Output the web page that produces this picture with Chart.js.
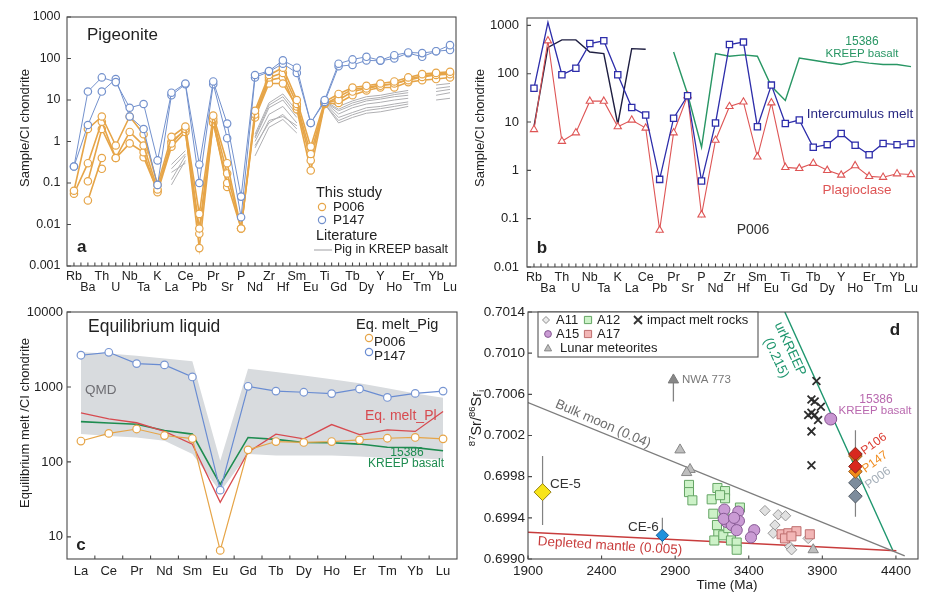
<!DOCTYPE html>
<html>
<head>
<meta charset="utf-8">
<script src="https://cdn.jsdelivr.net/npm/chart.js@4.4.0/dist/chart.umd.min.js"></script>
<style>
  body { margin: 0; background: #fff; width: 935px; height: 605px; position: relative; overflow: hidden; }
  canvas { position: absolute; }
</style>
</head>
<body>
<canvas id="pa" width="465" height="300" style="left:0;top:0"></canvas>
<canvas id="pb" width="470" height="300" style="left:465px;top:0"></canvas>
<canvas id="pc" width="465" height="310" style="left:0;top:295px"></canvas>
<canvas id="pd" width="470" height="310" style="left:465px;top:295px"></canvas>
<script>
const FONT = '"Liberation Sans", Arial, sans-serif';
const n = null;

// element order of the spider diagrams (a, b)
const spiderEls = ['Rb','Ba','Th','U','Nb','Ta','K','La','Ce','Pb','Pr','Sr','P','Nd','Zr','Hf','Sm','Eu','Ti','Gd','Tb','Dy','Y','Ho','Er','Tm','Yb','Lu'];
const reeEls = ['La','Ce','Pr','Nd','Sm','Eu','Gd','Tb','Dy','Ho','Er','Tm','Yb','Lu'];

// a: pigeonite, this study
const pigP147a = [0.25, 16, 35, 27, 6.5, 8, 0.35, 15, 25, 0.28, 28, 2.7, 0.047, 40, 50, 90, 60, 2.8, 10, 75, 95, 110, 90, 120, 140, 135, 150, 210];
const pigP147b = [0.25, 2.5, 16, 32, 4, 2, 0.09, 13, 24, 0.1, 24, 1.2, 0.015, 35, 48, 75, 45, 2.8, 9, 65, 70, 90, 88, 100, 135, 110, 150, 160];
const pigP006a = [0.065, 2, 4, 0.8, 4, 1.5, 0.09, 1.3, 2.3, 0.018, 4.2, 0.3, 0.008, 5.5, 40, 60, 10, 0.75, 9, 14, 20, 22, 25, 28, 35, 42, 45, 48];
const pigP006b = [0.055, 0.3, 3, 0.4, 1.7, 0.8, 0.07, 0.9, 2, 0.008, 3.5, 0.17, 0.008, 4.5, 35, 45, 8, 0.5, 8.5, 10, 16, 19, 22, 25, 30, 36, 40, 42];
const pigP006c = [n, 0.11, 2, 0.4, 0.9, 0.55, 0.06, 0.75, 1.7, 0.006, 2.8, 0.1, 0.008, 3.8, 25, 25, 7, 0.35, 8, 8.5, 13, 17, 20, 20, 27, 30, 32, 35];
const pigP006d = [n, 0.038, 0.4, n, n, 0.42, 0.065, 1.0, 1.9, 0.0027, 3, 0.08, n, 4, 30, 35, 6, 0.2, 8, 12, 18, 20, 23, 24, 32, 38, 42, 45];
const pigP006e = [n, n, 0.22, n, n, n, n, n, n, n, n, n, n, n, n, n, n, n, n, n, n, n, n, n, n, n, n, n];
// a: pigeonite in KREEP basalt (literature)
const litPig1 = [n,n,n,n,n,n,n, 0.09,0.35, n,n,n,n, 0.45,2.2,3.4,1.6, n, 8,2.8,3.8,4.8,5.2,6,7, n, 10,11];
const litPig2 = [n,n,n,n,n,n,n, 0.12,0.45, n,n,n,n, 0.8,2.8,4.5,2, n, 8.5,3.8,5,6.5,7,8,9, n, 13,15];
const litPig3 = [n,n,n,n,n,n,n, 0.18,0.3, n,n,n,n, 1,4.5,7,2.8, n, 9,4.6,6.5,8,8.8,10,11, n, 16,18];
const litPig4 = [n,n,n,n,n,n,n, 0.22,0.5, n,n,n,n, 1.2,6.5,10,3.8, n, 9,5.5,7.5,9.5,10.5,12,13, n, 19,21];
const litPig5 = [n,n,n,n,n,n,n, 0.28,0.6, n,n,n,n, 1.5,8.5,14,5.5, n, 10,7,9.5,12,13,15,17, n, 23,25];
const litPig6 = [n,n,n,n,n,n,n,n,n,n,n,n,n, 1.3,7.5,12,4.5, n, 9.5,6,8.5,10.5,11.5,13.5,15, n,n,n];
const litPig7 = [n,n,n,n,n,n,n,n,n,n,n,n,n, 0.7,3.2,4,2.4, n, 8,3.2,4.4,5.6,6.2,7,8, n,n,n];
const decadesA = [0.001, 0.01, 0.1, 1, 10, 100, 1000];

// b: P006
const meltP006 = [50, 1150, 95, 130, 420, 480, 95, 20, 14, 0.65, 12, 35, 0.6, 9.5, 400, 450, 8, 58, 9.3, 11, 3.0, 3.4, 5.8, 3.3, 2.1, 3.6, 3.4, 3.6];
const plagP006 = [7, 480, 4, 6, 27, 27, 8, 11, 7.5, 0.058, 6, 35, 0.12, 4.2, 21, 26, 1.9, 25, 1.15, 1.1, 1.4, 1.0, 0.8, 1.25, 0.75, 0.72, 0.85, 0.82];
const kreepLow = [8, 350, 500, 500, 280, 260, 9, 330, 320, n, n, n, n, n, n, n, n, n, n, n, n, n, n, n, n, n, n, n];
const kreep15386 = [n, n, n, n, n, n, n, n, n, n, 280, 38, 3, 260, 230, 245, 230, 55, 28, 210, 190, 170, 155, 180, 165, 155, 155, 140];
const decadesB = [0.01, 0.1, 1, 10, 100, 1000];

// c: equilibrium liquids
const eqP147 = [2650, 2900, 2050, 1970, 1360, 42, 1020, 880, 850, 815, 940, 725, 820, 880];
const eqP006 = [190, 240, 275, 225, 205, 6.6, 145, 187, 182, 187, 197, 207, 212, 203];
const eqPl = [450, 375, 333, 255, 172, 29, 135, 235, 203, 315, 232, 268, 255, 470];
const eq15386 = [345, 330, 318, 263, 235, 50, 212, 200, 182, 180, 173, 157, 155, 141];
const qmdHigh = [2900, 2800, 2600, 2400, 2200, 104, 1750, 1580, 1420, 1270, 1120, 960, 820, 720];
const qmdLow = [235, 222, 212, 192, 128, 40, 128, 122, 122, 122, 118, 112, 112, 108];
const decadesC = [10, 100, 1000, 10000];

// d: initial 87Sr/86Sr vs time (Ma)
const timeTicks = [1900, 2400, 2900, 3400, 3900, 4400];
const srTicks = [0.6990, 0.6994, 0.6998, 0.7002, 0.7006, 0.7010, 0.7014];
const a11 = [[3510,0.69947],[3600,0.69943],[3650,0.69942],[3578,0.69933],[3566,0.69925],[3679,0.69912],[3691,0.69909],[3804,0.69920]];
const a12 = [[2994,0.69972],[2994,0.69965],[3017,0.69957],[3148,0.69958],[3187,0.69969],[3239,0.69966],[3239,0.69959],[3159,0.69944],[3184,0.69933],[3193,0.69924],[3166,0.69918],[3227,0.69923],[3279,0.69918],[3318,0.69916],[3318,0.69909],[3340,0.69950],[3234,0.69946],[3261,0.69930],[3205,0.69962]];
const a15 = [[3234,0.69948],[3250,0.69936],[3284,0.69933],[3329,0.69946],[3333,0.69937],[3318,0.69928],[3230,0.69939],[3437,0.69928],[3415,0.69921],[3300,0.69940]];
const a17 = [[3623,0.69924],[3669,0.69925],[3724,0.69927],[3815,0.69924],[3646,0.69920],[3690,0.69922]];
const impactMelt = [[3860,0.70073],[3826,0.70055],[3848,0.70053],[3890,0.70048],[3826,0.70042],[3848,0.70040],[3871,0.70035],[3826,0.70024],[3826,0.69991],[3804,0.70040]];
const lunarMet = [[2933,0.70006],[3001,0.69987],[2978,0.69984],[3838,0.69909]];
const nwa773 = [[2888,0.70074]];
const nwa773Shaft = [[2888,0.70053],[2888,0.70071]];
const ce5 = [[1999,0.69965]];
const ce5Err = [[1999,0.70000],[1999,0.69933]];
const ce6 = [[2813,0.69923]];
const ce6Err = [[2813,0.69940],[2813,0.69914]];
const kreepSr = [[3957,0.70036]];
const p106Sr = [[4125,0.70002],[4125,0.69990]];
const p147Sr = [[4125,0.70000],[4125,0.69985]];
const p006Sr = [[4125,0.69974],[4125,0.69961]];
const pSrErr = [[4125,0.70025],[4125,0.69941]];
const bulkMoon = [[1900,0.70052],[4460,0.69903]];
const depletedMantle = [[1900,0.69926],[4403,0.69908]];
const urKreep = [[3645,0.7014],[4380,0.69908]];

const byIndex = arr => arr.map((v, i) => ({x: i, y: v}));
const xy = arr => arr.map(([x, y]) => ({x, y}));

function marker(ctx, kind, x, y, r, fill, stroke, lw) {
  ctx.save();
  ctx.fillStyle = fill; ctx.strokeStyle = stroke; ctx.lineWidth = lw || 1;
  ctx.beginPath();
  if (kind === 'circle') ctx.arc(x, y, r, 0, Math.PI * 2);
  else if (kind === 'rect') ctx.rect(x - r, y - r, 2 * r, 2 * r);
  else if (kind === 'rectRot') { ctx.moveTo(x, y - r); ctx.lineTo(x + r, y); ctx.lineTo(x, y + r); ctx.lineTo(x - r, y); ctx.closePath(); }
  else if (kind === 'triangle') { ctx.moveTo(x, y - r); ctx.lineTo(x + r, y + r * 0.8); ctx.lineTo(x - r, y + r * 0.8); ctx.closePath(); }
  else if (kind === 'cross') { ctx.moveTo(x - r, y - r); ctx.lineTo(x + r, y + r); ctx.moveTo(x + r, y - r); ctx.lineTo(x - r, y + r); }
  if (kind !== 'cross') ctx.fill();
  ctx.stroke();
  ctx.restore();
}

// frame, inward ticks and free text for one panel (page coords, shifted by ox/oy)
function annotate(cfg) {
  return {
    id: 'annot',
    afterDraw(chart) {
      const ctx = chart.ctx, a = chart.chartArea, sx = chart.scales.x, sy = chart.scales.y;
      ctx.save();
      ctx.strokeStyle = '#4a4a4a'; ctx.lineWidth = 1.1;
      ctx.strokeRect(a.left, a.top, a.right - a.left, a.bottom - a.top);
      ctx.beginPath();
      (cfg.xt || []).forEach(v => { const p = sx.getPixelForValue(v); ctx.moveTo(p, a.bottom); ctx.lineTo(p, a.bottom - 3.5); });
      (cfg.yt || []).forEach(v => { const p = sy.getPixelForValue(v); ctx.moveTo(a.left, p); ctx.lineTo(a.left + 4, p); });
      ctx.stroke();
      ctx.translate(-cfg.ox, -cfg.oy);
      (cfg.items || []).forEach(it => {
        if (it.box) {
          ctx.fillStyle = '#fff'; ctx.fillRect(...it.box);
          ctx.strokeStyle = '#555'; ctx.lineWidth = 1.1; ctx.strokeRect(...it.box);
        } else if (it.seg) {
          ctx.strokeStyle = it.c; ctx.lineWidth = it.w || 1;
          ctx.beginPath(); ctx.moveTo(it.seg[0], it.seg[1]); ctx.lineTo(it.seg[2], it.seg[3]); ctx.stroke();
        } else if (it.mk) {
          marker(ctx, it.mk, it.x, it.y, it.r, it.fill, it.stroke, it.lw);
        } else if (it.fn) {
          it.fn(ctx);
        } else {
          ctx.save();
          ctx.font = it.f; ctx.fillStyle = it.c || '#222';
          ctx.textAlign = it.al || 'left'; ctx.textBaseline = 'middle';
          ctx.translate(it.x, it.y);
          if (it.r) ctx.rotate(it.r * Math.PI / 180);
          ctx.fillText(it.t, 0, 0);
          ctx.restore();
        }
      });
      ctx.restore();
    }
  };
}

function logAxis(min, max, ticks, width, size, pad) {
  return {
    type: 'logarithmic', min, max,
    afterFit: s => { s.width = width; },
    afterBuildTicks: s => { s.ticks = ticks.map(v => ({value: v})); },
    grid: {display: false, drawTicks: false}, border: {display: false},
    ticks: {autoSkip: false, padding: pad, color: '#222', font: {family: FONT, size}, callback: v => String(v)}
  };
}

function elemAxis(labels, height) {
  return {
    type: 'linear', min: -0.5, max: 27.43,
    afterFit: s => { s.height = height; },
    afterBuildTicks: s => { s.ticks = labels.map((_, i) => ({value: i})); },
    grid: {display: false, drawTicks: false}, border: {display: false},
    ticks: {
      autoSkip: false, maxRotation: 0, minRotation: 0, padding: 4.5, color: '#222',
      font: {family: FONT, size: 12.5, lineHeight: 0.92},
      callback: v => (v % 2 ? ['', labels[v]] : labels[v])
    }
  };
}

const base = {
  responsive: false, animation: false, events: [],
  plugins: {legend: {display: false}, tooltip: {enabled: false}},
  elements: {line: {tension: 0}}
};
const halfSteps = spiderEls.flatMap((_, i) => [i, i + 0.5]).slice(0, -1);

function line(data, color, width, extra) {
  return Object.assign({data: byIndex(data), borderColor: color, borderWidth: width, pointRadius: 0,
    spanGaps: false, fill: false}, extra || {});
}
function ringed(data, color, width, radius) {
  return line(data, color, width, {pointRadius: radius, pointStyle: 'circle', pointBackgroundColor: '#fff',
    pointBorderColor: color, pointBorderWidth: 1.2});
}

// ---------- a ----------
const orange = 'rgb(230,165,72)', paleBlue = 'rgb(115,145,205)', litGray = 'rgb(175,175,178)';
new Chart(document.getElementById('pa'), {
  type: 'line',
  data: {datasets: [
    ringed(pigP147a, paleBlue, 1, 3.7),
    ringed(pigP147b, paleBlue, 1, 3.7),
    ringed(pigP006a, orange, 1.6, 3.7),
    ringed(pigP006b, orange, 1.6, 3.7),
    ringed(pigP006c, orange, 1.6, 3.7),
    ringed(pigP006d, orange, 1.6, 3.7),
    ringed(pigP006e, orange, 1.6, 3.7),
    line(litPig1, litGray, 1), line(litPig2, litGray, 1), line(litPig3, litGray, 1),
    line(litPig4, litGray, 1), line(litPig5, litGray, 1), line(litPig6, litGray, 1), line(litPig7, litGray, 1)
  ]},
  options: Object.assign({}, base, {
    layout: {padding: {top: 17, right: 9, left: 0, bottom: 0}},
    scales: {x: elemAxis(spiderEls, 34), y: logAxis(0.001, 1000, decadesA, 67, 12.5, 6.5)}
  }),
  plugins: [annotate({ox: 0, oy: 0, xt: halfSteps, yt: decadesA, items: [
    {t: 'Pigeonite', x: 87, y: 35, f: '17px ' + FONT},
    {t: 'a', x: 77, y: 247, f: 'bold 17px ' + FONT},
    {t: 'This study', x: 316, y: 193, f: '14.5px ' + FONT},
    {mk: 'circle', x: 322, y: 207, r: 3.6, fill: '#fff', stroke: orange, lw: 1.2},
    {t: 'P006', x: 333, y: 207, f: '13.5px ' + FONT},
    {mk: 'circle', x: 322, y: 220, r: 3.6, fill: '#fff', stroke: paleBlue, lw: 1.2},
    {t: 'P147', x: 333, y: 220, f: '13.5px ' + FONT},
    {t: 'Literature', x: 316, y: 236, f: '14.5px ' + FONT},
    {seg: [314, 250, 332, 250], c: litGray, w: 1.2},
    {t: 'Pig in KREEP basalt', x: 334, y: 250, f: '12.5px ' + FONT},
    {t: 'Sample/CI chondrite', x: 25, y: 128, f: '13px ' + FONT, al: 'center', r: -90}
  ]})]
});

// ---------- b ----------
const navy = 'rgb(45,45,170)', red = 'rgb(222,85,85)', green = 'rgb(40,150,100)';
new Chart(document.getElementById('pb'), {
  type: 'line',
  data: {datasets: [
    line(meltP006, navy, 1.3, {pointStyle: 'rect', pointBackgroundColor: '#fff', pointBorderColor: navy,
      pointBorderWidth: 1.3, pointRadius: c => (c.dataIndex === 1 ? 0 : 4.4)}),
    line(plagP006, red, 1.1, {pointStyle: 'triangle', pointRadius: 4.2, pointBackgroundColor: '#fff',
      pointBorderColor: red, pointBorderWidth: 1.1}),
    line(kreepLow, 'rgb(30,30,65)', 1.4),
    line(kreep15386, green, 1.4)
  ]},
  options: Object.assign({}, base, {
    layout: {padding: {top: 18, right: 18, left: 0, bottom: 0}},
    scales: {x: elemAxis(spiderEls, 33), y: logAxis(0.01, 1419, decadesB, 62, 13, 8)}
  }),
  plugins: [annotate({ox: 465, oy: 0, xt: halfSteps, yt: decadesB, items: [
    {t: '15386', x: 862, y: 42, f: '12px ' + FONT, c: green, al: 'center'},
    {t: 'KREEP basalt', x: 862, y: 54, f: '11.5px ' + FONT, c: green, al: 'center'},
    {t: 'Intercumulus melt', x: 860, y: 114, f: '13.5px ' + FONT, c: 'rgb(40,40,130)', al: 'center'},
    {t: 'Plagioclase', x: 857, y: 190, f: '13.5px ' + FONT, c: red, al: 'center'},
    {t: 'P006', x: 753, y: 230, f: '14px ' + FONT, c: '#333', al: 'center'},
    {t: 'b', x: 542, y: 248, f: 'bold 17px ' + FONT, al: 'center'},
    {t: 'Sample/CI chondrite', x: 480, y: 128, f: '13px ' + FONT, al: 'center', r: -90}
  ]})]
});

// ---------- c ----------
const blueC = 'rgb(105,140,210)', greenC = 'rgb(30,140,80)';
new Chart(document.getElementById('pc'), {
  type: 'line',
  data: {labels: reeEls, datasets: [
    {data: eqP147, borderColor: blueC, borderWidth: 1.2, pointRadius: 3.8, pointBackgroundColor: '#fff', pointBorderColor: 'rgb(120,150,210)', pointBorderWidth: 1.2, fill: false},
    {data: eqP006, borderColor: orange, borderWidth: 1.2, pointRadius: 3.8, pointBackgroundColor: '#fff', pointBorderColor: orange, pointBorderWidth: 1.2, fill: false},
    {data: eqPl, borderColor: 'rgb(215,75,80)', borderWidth: 1.3, pointRadius: 0, fill: false},
    {data: eq15386, borderColor: greenC, borderWidth: 1.6, pointRadius: 0, fill: false},
    {data: qmdHigh, borderWidth: 0, borderColor: 'rgba(0,0,0,0)', pointRadius: 0, fill: '+1', backgroundColor: 'rgb(216,219,222)'},
    {data: qmdLow, borderWidth: 0, borderColor: 'rgba(0,0,0,0)', pointRadius: 0, fill: false}
  ]},
  options: Object.assign({}, base, {
    layout: {padding: {top: 17, right: 8, left: 0, bottom: 0}},
    scales: {
      x: {type: 'category', offset: true, afterFit: s => { s.height = 46; },
        grid: {display: false, drawTicks: false}, border: {display: false},
        ticks: {autoSkip: false, maxRotation: 0, padding: 4.2, color: '#222', font: {family: FONT, size: 13}}},
      y: logAxis(5.07, 10000, decadesC, 67, 13, 4)
    }
  }),
  plugins: [annotate({ox: 0, oy: 295, xt: reeEls.slice(1).map((_, i) => i + 0.5), yt: decadesC, items: [
    {t: 'Equilibrium liquid', x: 88, y: 327, f: '17.5px ' + FONT},
    {t: 'Eq. melt_Pig', x: 356, y: 325, f: '14.5px ' + FONT},
    {mk: 'circle', x: 369, y: 338, r: 3.6, fill: '#fff', stroke: orange, lw: 1.2},
    {t: 'P006', x: 374, y: 342, f: '13.5px ' + FONT},
    {mk: 'circle', x: 369, y: 352, r: 3.6, fill: '#fff', stroke: blueC, lw: 1.2},
    {t: 'P147', x: 374, y: 356, f: '13.5px ' + FONT},
    {t: 'QMD', x: 85, y: 390, f: '13.5px ' + FONT, c: 'rgb(110,110,115)'},
    {t: 'Eq. melt_Pl', x: 365, y: 416, f: '14px ' + FONT, c: 'rgb(215,75,80)'},
    {t: '15386', x: 407, y: 453, f: '12px ' + FONT, c: greenC, al: 'center'},
    {t: 'KREEP basalt', x: 406, y: 464, f: '12px ' + FONT, c: greenC, al: 'center'},
    {t: 'c', x: 81, y: 545, f: 'bold 17px ' + FONT, al: 'center'},
    {t: 'Equilibrium melt /CI chondrite', x: 25, y: 423, f: '13px ' + FONT, al: 'center', r: -90}
  ]})]
});

// ---------- d ----------
function pts(data, style, r, fill, stroke, lw) {
  return {data: xy(data), pointStyle: style, pointRadius: r, pointBackgroundColor: fill,
    pointBorderColor: stroke, pointBorderWidth: lw || 1, showLine: false};
}
function seg(data, color, width) {
  return {data: xy(data), showLine: true, borderColor: color, borderWidth: width, pointRadius: 0, fill: false};
}
function srTitle(ctx) {
  const big = '14.5px ' + FONT, small = '9.5px ' + FONT;
  const parts = [['87', small, -5], ['Sr/', big, 0], ['86', small, -5], ['Sr', big, 0], ['i', small, 4]];
  ctx.save();
  ctx.translate(477, 418); ctx.rotate(-Math.PI / 2);
  ctx.textBaseline = 'middle'; ctx.textAlign = 'left'; ctx.fillStyle = '#222';
  let w = 0;
  parts.forEach(p => { ctx.font = p[1]; w += ctx.measureText(p[0]).width; });
  let cx = -w / 2;
  parts.forEach(p => { ctx.font = p[1]; ctx.fillText(p[0], cx, p[2]); cx += ctx.measureText(p[0]).width; });
  ctx.restore();
}
const gD = 'rgb(130,130,130)', redD = 'rgb(200,60,60)', greenD = 'rgb(30,150,110)';
new Chart(document.getElementById('pd'), {
  type: 'scatter',
  data: {datasets: [
    pts(p106Sr, 'rectRot', 6.8, 'rgb(216,40,30)', 'rgb(130,40,30)'),
    pts(p147Sr, 'rectRot', 6.8, 'rgb(242,140,25)', 'rgb(150,90,30)'),
    pts(p006Sr, 'rectRot', 6.8, 'rgb(125,140,156)', 'rgb(80,90,100)'),
    pts(ce5, 'rectRot', 8.5, 'rgb(248,228,25)', 'rgb(150,130,20)'),
    pts(ce6, 'rectRot', 6.2, 'rgb(30,145,220)', 'rgb(20,90,150)'),
    pts(kreepSr, 'circle', 6, 'rgb(200,150,210)', 'rgb(130,80,140)'),
    pts(impactMelt, 'crossRot', 5.5, '#333', 'rgb(45,45,45)', 1.8),
    pts(a15, 'circle', 5.6, 'rgb(202,155,212)', 'rgb(135,90,148)'),
    pts(a17, 'rect', 6.4, 'rgb(242,182,182)', 'rgb(190,110,110)'),
    pts(a12, 'rect', 6.4, 'rgb(205,242,200)', 'rgb(100,165,100)'),
    pts(a11, 'rectRot', 5.2, 'rgb(225,225,225)', 'rgb(150,150,150)'),
    pts(lunarMet, 'triangle', 6, 'rgb(190,190,190)', 'rgb(135,135,135)'),
    pts(nwa773, 'triangle', 6, 'rgb(135,135,135)', 'rgb(120,120,120)'),
    seg(nwa773Shaft, gD, 1.3),
    seg(ce5Err, gD, 1.2), seg(ce6Err, gD, 1.2), seg(pSrErr, gD, 1.2),
    seg(bulkMoon, 'rgb(125,125,125)', 1.4),
    seg(depletedMantle, redD, 1.4),
    seg(urKreep, greenD, 1.4)
  ]},
  options: Object.assign({}, base, {
    layout: {padding: {top: 17, right: 17, left: 0, bottom: 0}},
    scales: {
      x: {type: 'linear', min: 1900, max: 4550, afterFit: s => { s.height = 46; },
        afterBuildTicks: s => { s.ticks = timeTicks.map(v => ({value: v})); },
        grid: {display: false, drawTicks: false}, border: {display: false},
        ticks: {autoSkip: false, maxRotation: 0, padding: 4, color: '#222', font: {family: FONT, size: 13.5}, callback: v => String(v)}},
      y: {type: 'linear', min: 0.6990, max: 0.7014, afterFit: s => { s.width = 63; },
        afterBuildTicks: s => { s.ticks = srTicks.map(v => ({value: v})); },
        grid: {display: false, drawTicks: false}, border: {display: false},
        ticks: {autoSkip: false, padding: 3, color: '#222', font: {family: FONT, size: 13.5}, callback: v => v.toFixed(4)}}
    }
  }),
  plugins: [annotate({ox: 465, oy: 295, xt: timeTicks, yt: srTicks, items: [
    {box: [538, 312, 220, 45]},
    {mk: 'rectRot', x: 546, y: 320, r: 3.5, fill: 'rgb(235,235,235)', stroke: 'rgb(140,140,140)'},
    {t: 'A11', x: 556, y: 320, f: '13px ' + FONT},
    {mk: 'rect', x: 588, y: 320, r: 3.6, fill: 'rgb(205,242,200)', stroke: 'rgb(100,165,100)'},
    {t: 'A12', x: 597, y: 320, f: '13px ' + FONT},
    {mk: 'cross', x: 638, y: 320, r: 4, fill: '#333', stroke: '#333', lw: 1.8},
    {t: 'impact melt rocks', x: 647, y: 320, f: '13px ' + FONT},
    {mk: 'circle', x: 548, y: 334, r: 3.4, fill: 'rgb(202,155,212)', stroke: 'rgb(135,90,148)'},
    {t: 'A15', x: 556, y: 334, f: '13px ' + FONT},
    {mk: 'rect', x: 588, y: 334, r: 3.6, fill: 'rgb(242,182,182)', stroke: 'rgb(190,110,110)'},
    {t: 'A17', x: 597, y: 334, f: '13px ' + FONT},
    {mk: 'triangle', x: 548, y: 348, r: 3.6, fill: 'rgb(190,190,190)', stroke: 'rgb(135,135,135)'},
    {t: 'Lunar meteorites', x: 560, y: 348, f: '13px ' + FONT},
    {t: 'd', x: 895, y: 330, f: 'bold 17px ' + FONT, al: 'center'},
    {t: 'NWA 773', x: 682, y: 380, f: '11.5px ' + FONT, c: 'rgb(120,120,120)'},
    {t: 'Bulk moon (0.04)', x: 603, y: 424, f: '13.5px ' + FONT, c: 'rgb(110,110,110)', al: 'center', r: 23.5},
    {t: 'Depleted mantle (0.005)', x: 610, y: 546, f: '13.5px ' + FONT, c: redD, al: 'center', r: 3.5},
    {t: 'urKREEP', x: 790, y: 349, f: '13.5px ' + FONT, c: greenD, al: 'center', r: 65},
    {t: '(0.215)', x: 776, y: 358, f: '13.5px ' + FONT, c: greenD, al: 'center', r: 65},
    {t: '15386', x: 876, y: 400, f: '12px ' + FONT, c: 'rgb(185,105,175)', al: 'center'},
    {t: 'KREEP basalt', x: 875, y: 411, f: '11.5px ' + FONT, c: 'rgb(185,105,175)', al: 'center'},
    {t: 'P106', x: 874, y: 444, f: '12px ' + FONT, c: 'rgb(220,60,50)', al: 'center', r: -36},
    {t: 'P147', x: 875, y: 462, f: '12px ' + FONT, c: 'rgb(240,140,30)', al: 'center', r: -36},
    {t: 'P006', x: 878, y: 478, f: '12px ' + FONT, c: 'rgb(165,175,185)', al: 'center', r: -36},
    {t: 'CE-5', x: 550, y: 484, f: '13.5px ' + FONT, c: '#333'},
    {t: 'CE-6', x: 628, y: 527, f: '13.5px ' + FONT, c: '#333'},
    {t: 'Time (Ma)', x: 727, y: 585, f: '13.5px ' + FONT, al: 'center'},
    {fn: srTitle}
  ]})]
});
</script>
</body>
</html>
